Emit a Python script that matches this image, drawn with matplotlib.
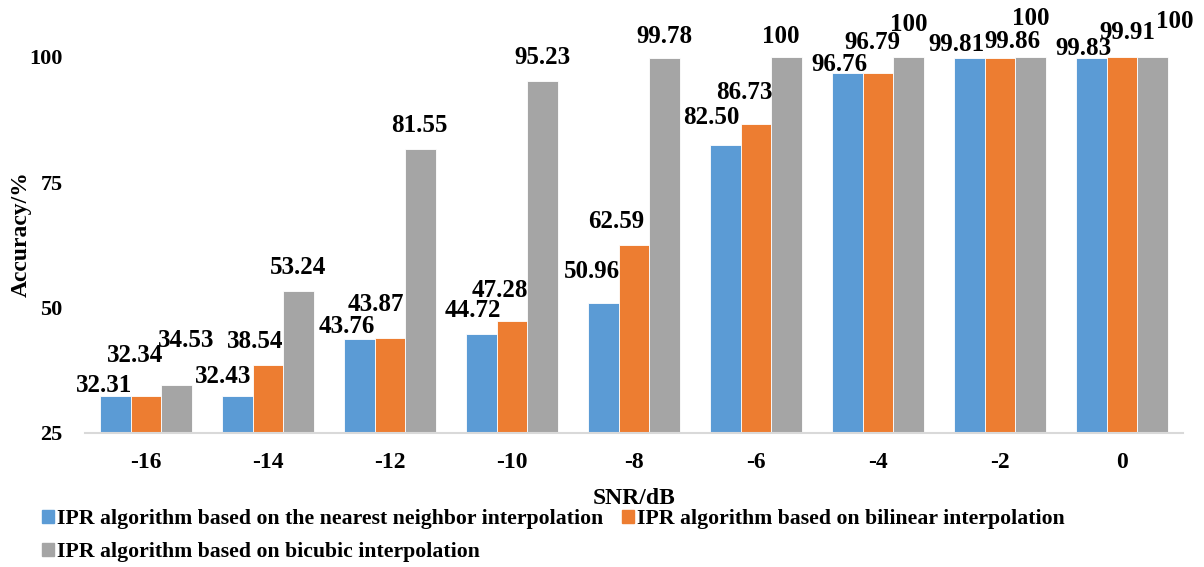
import matplotlib.pyplot as plt
from matplotlib.patches import Patch
import numpy as np

# SNR levels and accuracy (%) of the three IPR variants
snr = ['-16', '-14', '-12', '-10', '-8', '-6', '-4', '-2', '0']
nearest = [32.31, 32.43, 43.76, 44.72, 50.96, 82.50, 96.76, 99.81, 99.83]
bilinear = [32.34, 38.54, 43.87, 47.28, 62.59, 86.73, 96.79, 99.86, 99.91]
bicubic = [34.53, 53.24, 81.55, 95.23, 99.78, 100, 100, 100, 100]
names = ['IPR algorithm based on the nearest neighbor interpolation',
         'IPR algorithm based on bilinear interpolation',
         'IPR algorithm based on bicubic interpolation']
colors = ['#5B9BD5', '#ED7D31', '#A5A5A5']

# hand-placed data label nudges (dx, gap above bar top), in pixels
label_nudge = [
    [(-11, 4), (-14, 13), (-13, 6), (-9, 17), (-12, 25), (-14, 21), (-8, 2), (-13, 7), (-8, 3)],
    [(-11, 34), (-13, 17), (-14, 27), (-12, 24), (-18, 17), (-12, 25), (-6, 24), (12, 10), (5, 18)],
    [(10, 38), (0, 17), (-1, 17), (0, 17), (0, 15), (-6, 14), (0, 26), (0, 32), (22, 29)],
]

plt.rcParams['font.family'] = 'Liberation Serif'
plt.rcParams['font.weight'] = 'bold'

W, H = 1204, 567
fig = plt.figure(figsize=(W / 100, H / 100), dpi=100)
ax = fig.add_axes((85 / W, (H - 433) / H, 1098 / W, 376 / H))

x = np.arange(len(snr))
width = 0.25
for i, (vals, col) in enumerate(zip([nearest, bilinear, bicubic], colors)):
    pos = x + (i - 1) * width
    ax.bar(pos, vals, width, color=col, edgecolor='white', linewidth=0.6, zorder=2)
    for p, v, (dx, gap) in zip(pos, vals, label_nudge[i]):
        txt = '100' if v == 100 else f'{v:.2f}'
        ax.annotate(txt, (p, v), xytext=(dx, gap), textcoords='offset pixels',
                    ha='center', va='baseline', fontsize=18, fontweight='bold',
                    annotation_clip=False)

ax.set_xlim(-0.5, len(snr) - 0.5)
ax.set_ylim(25, 100)
ax.set_yticks([25, 50, 75, 100])
ax.set_xticks(x, labels=snr)
ax.tick_params(axis='both', length=0)
ax.tick_params(axis='x', pad=14, labelsize=17)
ax.tick_params(axis='y', pad=16, labelsize=16)
for side in ['top', 'right', 'left']:
    ax.spines[side].set_visible(False)
ax.spines['bottom'].set_color('#D9D9D9')
ax.spines['bottom'].set_linewidth(1.5)
ax.spines['bottom'].set_zorder(3)

fig.text(634 / W, 1 - 498 / H, 'SNR/dB', ha='center', va='center', fontsize=17, fontweight='bold')
fig.text(21 / W, 1 - 234 / H, 'Accuracy/%', ha='center', va='center', rotation=90,
         fontsize=17, fontweight='bold')

# legend filled row by row: blue, orange on the first row, gray below
handles = [Patch(color=c) for c in colors]
order = [0, 2, 1]
fig.legend([handles[k] for k in order], [names[k] for k in order], ncol=2,
           loc='upper left', bbox_to_anchor=(42 / W, 1 - 509 / H), frameon=False,
           fontsize=15.7, handlelength=0.55, handleheight=0.55, handletextpad=0.15,
           columnspacing=0.85, labelspacing=0.6, borderpad=0, borderaxespad=0)

fig.savefig('out.png', dpi=100)
